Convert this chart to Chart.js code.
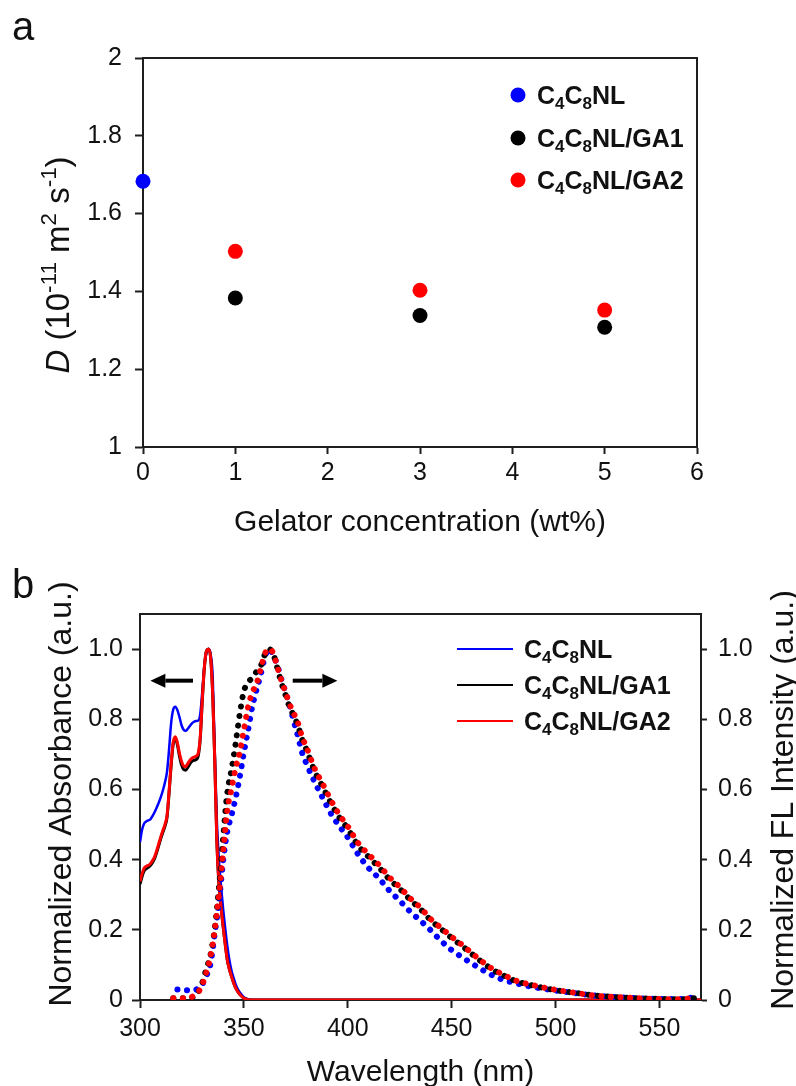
<!DOCTYPE html>
<html><head><meta charset="utf-8">
<script src="https://cdn.jsdelivr.net/npm/chart.js@4.4.1/dist/chart.umd.min.js"></script>
<style>
html,body{margin:0;padding:0;background:#fff;}
#wrap{position:relative;width:796px;height:1086px;overflow:hidden;background:#fff;}
#ca{position:absolute;left:0;top:0;width:796px;height:560px;}
#cb{position:absolute;left:0;top:560px;width:796px;height:526px;}
</style></head><body>
<div id="wrap"><canvas id="ca" width="796" height="560"></canvas><canvas id="cb" width="796" height="526"></canvas></div>
<script>
// ---------- DATA ----------
const seriesNames = ['C4C8NL', 'C4C8NL/GA1', 'C4C8NL/GA2'];
const seriesColors = ['#0000ff', '#000000', '#ff0000'];

// panel a: diffusion coefficient vs gelator concentration
const concNeat = [0];
const dNeat = [1.683];
const concGel = [1, 3, 5];
const dGA1 = [1.383, 1.338, 1.308];
const dGA2 = [1.503, 1.403, 1.352];
const xTicksA = [0, 1, 2, 3, 4, 5, 6];
const yTicksA = [1, 1.2, 1.4, 1.6, 1.8, 2];

// panel b: absorbance (solid) and fluorescence (dotted)
const absWl = [300,301,302,303,304,305,306,307,308,309,310,311,312,313,314,315,316,317,318,319,320,321,322,323,324,325,326,327,328,329,330,331,332,333,334,335,336,337,338,339,340,341,342,343,344,345,346,347,348,350,352,354,360,400,450,500,570];
const absNeat = [0.45,0.485,0.503,0.509,0.512,0.515,0.524,0.535,0.548,0.562,0.578,0.597,0.62,0.65,0.715,0.79,0.828,0.836,0.826,0.806,0.783,0.77,0.767,0.773,0.781,0.788,0.793,0.795,0.796,0.815,0.88,0.955,0.99,1.0,0.985,0.92,0.7,0.51,0.4,0.324,0.26,0.205,0.155,0.115,0.085,0.064,0.045,0.032,0.022,0.008,0.002,0,0,0,0,0,0];
const absGA1 = [0.33,0.352,0.368,0.374,0.378,0.383,0.392,0.403,0.42,0.44,0.46,0.478,0.495,0.52,0.59,0.67,0.73,0.745,0.727,0.695,0.67,0.657,0.655,0.663,0.673,0.68,0.683,0.685,0.695,0.745,0.855,0.948,0.995,1.0,0.975,0.87,0.68,0.45,0.33,0.265,0.21,0.16,0.115,0.088,0.068,0.05,0.035,0.024,0.016,0.005,0.001,0,0,0,0,0,0];
const absGA2 = [0.338,0.36,0.376,0.381,0.384,0.388,0.397,0.408,0.425,0.445,0.465,0.483,0.5,0.525,0.595,0.675,0.735,0.75,0.733,0.703,0.68,0.667,0.665,0.674,0.683,0.689,0.692,0.695,0.703,0.75,0.86,0.95,0.995,1.0,0.975,0.87,0.68,0.45,0.33,0.265,0.21,0.16,0.115,0.088,0.068,0.05,0.035,0.024,0.016,0.005,0.001,0,0,0,0,0,0];

const emWl = [316,318,320,322,324,326,328,330,332,334,336,338,340,342,344,346,348,350,352,354,356,358,360,362,364,366,368,370,372,374,376,378,380,384,388,392,396,400,405,410,415,420,425,430,435,440,445,450,455,460,465,470,475,480,490,500,510,520,530,540,550,560,567];
const emNeat = [null,0.03,0.03,0.028,0.028,0.028,0.033,0.045,0.07,0.105,0.19,0.28,0.395,0.48,0.525,0.575,0.635,0.705,0.768,0.835,0.882,0.925,0.975,1.0,0.985,0.955,0.915,0.878,0.84,0.795,0.752,0.705,0.675,0.622,0.575,0.53,0.495,0.463,0.415,0.376,0.347,0.312,0.283,0.252,0.226,0.198,0.168,0.142,0.122,0.103,0.085,0.069,0.057,0.049,0.036,0.027,0.019,0.012,0.008,0.005,0.003,0.003,0.008];
const emGA1 = [0.005,0.005,0.005,0.005,0.005,0.01,0.022,0.05,0.09,0.13,0.205,0.32,0.46,0.59,0.655,0.73,0.815,0.88,0.905,0.918,0.935,0.95,0.983,1.0,0.988,0.948,0.905,0.87,0.835,0.81,0.782,0.743,0.715,0.653,0.607,0.56,0.52,0.488,0.44,0.408,0.378,0.344,0.317,0.286,0.259,0.227,0.202,0.177,0.154,0.13,0.106,0.085,0.07,0.056,0.04,0.028,0.02,0.012,0.008,0.005,0.003,0.002,0.005];
const emGA2 = [0.005,0.005,0.005,0.005,0.007,0.012,0.022,0.045,0.08,0.125,0.2,0.3,0.42,0.54,0.6,0.66,0.705,0.77,0.835,0.876,0.9,0.94,0.985,1.0,0.99,0.952,0.912,0.878,0.843,0.817,0.79,0.75,0.722,0.66,0.615,0.568,0.527,0.495,0.447,0.415,0.385,0.35,0.322,0.29,0.263,0.23,0.205,0.18,0.157,0.132,0.108,0.087,0.072,0.057,0.041,0.029,0.02,0.012,0.008,0.005,0.003,0.002,0.007];
const xTicksB = [300, 350, 400, 450, 500, 550];
const yTicksB = [0, 0.2, 0.4, 0.6, 0.8, 1.0];

// ---------- HELPERS ----------
const FONT = '"Liberation Sans", Arial, Helvetica, sans-serif';
Chart.defaults.font.family = FONT;
function fontStr(size, weight, italic) { return (italic ? 'italic ' : '') + (weight || 'normal') + ' ' + size + 'px ' + FONT; }
function pts(xs, ys) { const o = []; xs.forEach((x, i) => { if (ys[i] !== null) o.push({x: x, y: ys[i]}); }); return o; }
function formulaParts(name) {
  const out = [];
  for (let i = 0; i < name.length; i++) {
    const c = name[i];
    const sub = /\d/.test(c) && name[i - 1] === 'C';
    const last = out[out.length - 1];
    if (last && !!last.sub === sub) last.t += c; else out.push({t: c, sub: sub});
  }
  return out;
}
function drawRich(ctx, parts, x, y, size, weight, align) {
  const sc = 0.68;
  let total = 0; const ws = [];
  parts.forEach(p => { const s = (p.sub || p.sup) ? size * sc : size; ctx.font = fontStr(s, weight, p.it); const w = ctx.measureText(p.t).width; ws.push(w); total += w; });
  let cx = align === 'center' ? x - total / 2 : x;
  ctx.textBaseline = 'alphabetic'; ctx.textAlign = 'left';
  parts.forEach((p, i) => {
    const s = (p.sub || p.sup) ? size * sc : size;
    ctx.font = fontStr(s, weight, p.it);
    const dy = p.sub ? size * 0.2 : (p.sup ? -size * 0.38 : 0);
    ctx.fillText(p.t, cx, y + dy);
    cx += ws[i];
  });
}
function fixedTicks(list) { return function (scale) { scale.ticks = list.map(v => ({value: v})); }; }
const AX = '#1e1e1e', TXT = '#111';

// ---------- PANEL A ----------
const titleA = [{t: 'D', it: true}, {t: ' (10'}, {t: '-11', sup: true}, {t: ' m'}, {t: '2', sup: true}, {t: ' s'}, {t: '-1', sup: true}, {t: ')'}];
const legendRowsA = [95, 138, 180];
const pluginA = {
  id: 'decorA',
  beforeDatasetsDraw(chart) {
    const ctx = chart.ctx, a = chart.chartArea;
    ctx.save(); ctx.strokeStyle = AX; ctx.lineWidth = 2;
    ctx.strokeRect(a.left, a.top, a.right - a.left, a.bottom - a.top);
    ctx.restore();
  },
  afterDraw(chart) {
    const ctx = chart.ctx, a = chart.chartArea;
    ctx.save();
    ctx.fillStyle = TXT;
    ctx.font = fontStr(40); ctx.textAlign = 'left'; ctx.textBaseline = 'alphabetic';
    ctx.fillText('a', 12, 40);
    ctx.font = fontStr(30); ctx.textAlign = 'center';
    ctx.fillText('Gelator concentration (wt%)', (a.left + a.right) / 2, 531);
    ctx.save(); ctx.translate(69, 265); ctx.rotate(-Math.PI / 2);
    drawRich(ctx, titleA, 0, 0, 33, 'normal', 'center');
    ctx.restore();
    seriesNames.forEach((n, i) => {
      const y = legendRowsA[i];
      ctx.beginPath(); ctx.fillStyle = seriesColors[i]; ctx.arc(518, y, 7.5, 0, Math.PI * 2); ctx.fill();
      ctx.fillStyle = TXT;
      drawRich(ctx, formulaParts(n), 537, y + 9, 25, 'bold', 'left');
    });
    ctx.restore();
  }
};
new Chart(document.getElementById('ca'), {
  type: 'scatter',
  data: {datasets: [
    {label: seriesNames[0], data: pts(concNeat, dNeat), backgroundColor: seriesColors[0], pointRadius: 7.5, pointHoverRadius: 7.5, borderWidth: 0, clip: false},
    {label: seriesNames[2], data: pts(concGel, dGA2), backgroundColor: seriesColors[2], pointRadius: 7.5, pointHoverRadius: 7.5, borderWidth: 0, clip: false},
    {label: seriesNames[1], data: pts(concGel, dGA1), backgroundColor: seriesColors[1], pointRadius: 7.5, pointHoverRadius: 7.5, borderWidth: 0, clip: false}
  ]},
  options: {
    responsive: false, animation: false, devicePixelRatio: 1,
    layout: {padding: {top: 58, right: 99, left: 0, bottom: 0}},
    plugins: {legend: {display: false}, tooltip: {enabled: false}},
    events: [],
    scales: {
      x: {type: 'linear', min: 0, max: 6, afterBuildTicks: fixedTicks(xTicksA),
        ticks: {font: {size: 25}, color: TXT, padding: 4, maxRotation: 0, autoSkip: false},
        grid: {drawOnChartArea: false, drawTicks: true, tickLength: 7, tickWidth: 2, tickColor: AX},
        border: {display: true, color: AX, width: 2},
        afterFit(s) { s.height = 113; }},
      y: {type: 'linear', min: 1, max: 2, afterBuildTicks: fixedTicks(yTicksA),
        ticks: {font: {size: 25}, color: TXT, padding: 13, callback: v => String(+v.toFixed(1))},
        grid: {drawOnChartArea: false, drawTicks: true, tickLength: 8, tickWidth: 2, tickColor: AX},
        border: {display: true, color: AX, width: 2},
        afterFit(s) { s.width = 143; }}
    }
  },
  plugins: [pluginA]
});

// ---------- PANEL B ----------
const legendRowsB = [89, 125, 161];
function arrow(ctx, xTail, xTip, y) {
  const dir = Math.sign(xTip - xTail), head = 15, half = 7;
  ctx.fillStyle = '#000';
  ctx.fillRect(Math.min(xTail, xTip - dir * head), y - 2, Math.abs(xTip - dir * head - xTail), 4);
  ctx.beginPath(); ctx.moveTo(xTip, y); ctx.lineTo(xTip - dir * head, y - half); ctx.lineTo(xTip - dir * head, y + half); ctx.closePath(); ctx.fill();
}
const pluginB = {
  id: 'decorB',
  beforeDatasetsDraw(chart) {
    const ctx = chart.ctx, a = chart.chartArea;
    ctx.save(); ctx.strokeStyle = AX; ctx.lineWidth = 2;
    ctx.beginPath(); ctx.moveTo(a.left - 1, a.top); ctx.lineTo(a.right + 1, a.top); ctx.stroke();
    ctx.restore();
  },
  afterDraw(chart) {
    const ctx = chart.ctx, a = chart.chartArea, xs = chart.scales.x, ys = chart.scales.y;
    ctx.save();
    const ay = ys.getPixelForValue(0.91);
    arrow(ctx, xs.getPixelForValue(325.5), xs.getPixelForValue(305), ay);
    arrow(ctx, xs.getPixelForValue(373.5), xs.getPixelForValue(395), ay);
    seriesNames.forEach((n, i) => {
      const y = legendRowsB[i];
      ctx.strokeStyle = seriesColors[i]; ctx.lineWidth = 2;
      ctx.beginPath(); ctx.moveTo(457, y); ctx.lineTo(513, y); ctx.stroke();
      ctx.fillStyle = TXT;
      drawRich(ctx, formulaParts(n), 524, y + 9, 25, 'bold', 'left');
    });
    ctx.fillStyle = TXT;
    ctx.font = fontStr(40); ctx.textAlign = 'left'; ctx.textBaseline = 'alphabetic';
    ctx.fillText('b', 12, 38);
    ctx.font = fontStr(30); ctx.textAlign = 'center';
    ctx.fillText('Wavelength (nm)', (a.left + a.right) / 2, 521);
    ctx.font = fontStr(32);
    ctx.save(); ctx.translate(71, 234); ctx.rotate(-Math.PI / 2); ctx.fillText('Normalized Absorbance (a.u.)', 0, 0); ctx.restore();
    ctx.save(); ctx.translate(793, 240); ctx.rotate(-Math.PI / 2); ctx.fillText('Normalized FL Intensity (a.u.)', 0, 0); ctx.restore();
    ctx.restore();
  }
};
function absSet(i, arr, w) {
  return {label: seriesNames[i] + ' abs', data: pts(absWl, arr), borderColor: seriesColors[i], borderWidth: w, pointRadius: 0, fill: false, tension: 0.4, cubicInterpolationMode: 'monotone', yAxisID: 'y'};
}
function emSet(i, arr) {
  return {label: seriesNames[i] + ' FL', data: pts(emWl, arr), borderColor: seriesColors[i], borderWidth: 6, borderDash: [0.1, 9.5], borderCapStyle: 'round', pointRadius: 0, fill: false, tension: 0.4, cubicInterpolationMode: 'monotone', yAxisID: 'y2'};
}
const yTickOptsB = (pad) => ({font: {size: 25}, color: TXT, padding: pad, callback: v => v === 0 ? '0' : v.toFixed(1)});
new Chart(document.getElementById('cb'), {
  type: 'line',
  data: {datasets: [
    emSet(2, emGA2), emSet(1, emGA1), emSet(0, emNeat),
    absSet(2, absGA2, 3), absSet(1, absGA1, 3), absSet(0, absNeat, 2.5)
  ]},
  options: {
    responsive: false, animation: false, devicePixelRatio: 1,
    layout: {padding: {top: 54, right: 0, left: 0, bottom: 0}},
    plugins: {legend: {display: false}, tooltip: {enabled: false}},
    events: [],
    scales: {
      x: {type: 'linear', min: 300, max: 570, afterBuildTicks: fixedTicks(xTicksB),
        ticks: {font: {size: 25}, color: TXT, padding: 6, maxRotation: 0, autoSkip: false},
        grid: {drawOnChartArea: false, drawTicks: true, tickLength: 8, tickWidth: 2, tickColor: AX},
        border: {display: true, color: AX, width: 2},
        afterFit(s) { s.height = 86; }},
      y: {type: 'linear', position: 'left', min: 0, max: 1.1, afterBuildTicks: fixedTicks(yTicksB),
        ticks: yTickOptsB(9),
        grid: {drawOnChartArea: false, drawTicks: true, tickLength: 8, tickWidth: 2, tickColor: AX},
        border: {display: true, color: AX, width: 2},
        afterFit(s) { s.width = 140; }},
      y2: {type: 'linear', position: 'right', min: 0, max: 1.1, afterBuildTicks: fixedTicks(yTicksB),
        ticks: yTickOptsB(11),
        grid: {drawOnChartArea: false, drawTicks: true, tickLength: 6, tickWidth: 2, tickColor: AX},
        border: {display: true, color: AX, width: 2},
        afterFit(s) { s.width = 95; }}
    }
  },
  plugins: [pluginB]
});
</script></body></html>
